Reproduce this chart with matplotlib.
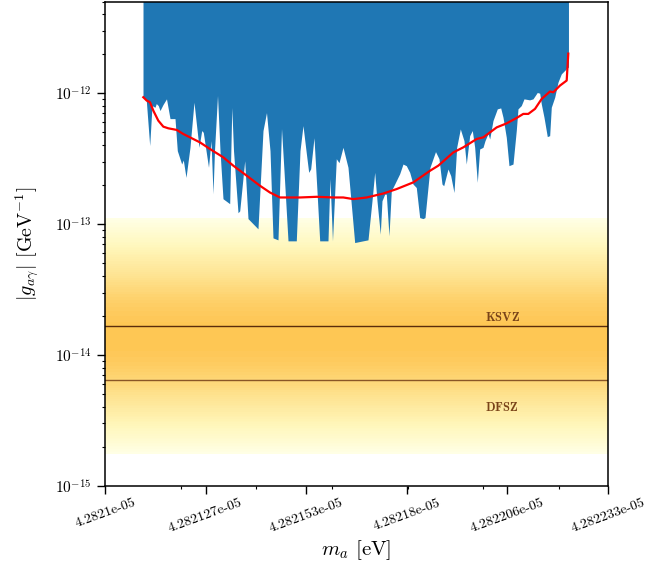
import numpy as np
import matplotlib.pyplot as plt
from matplotlib.ticker import MultipleLocator, NullFormatter

plt.rcParams['font.family'] = 'serif'
plt.rcParams['font.serif'] = ['cmr10', 'DejaVu Serif']
plt.rcParams['mathtext.fontset'] = 'cm'
plt.rcParams['axes.formatter.use_mathtext'] = True

m0 = 4.2821e-05      # eV, lower end of the mass axis
m1 = 4.282233e-05    # eV, upper end

# observed exclusion: mass offset from m0 (in 1e-11 eV) and coupling (in 1e-13 GeV^-1)
limit_dm = [10.05, 10.92, 11.82, 12.43, 13.22, 13.56, 14.09, 14.54, 15.34, 16.26,
            17.19, 18.51, 19.12, 20.28, 20.70, 21.42, 22.47, 23.53, 24.85, 25.57,
            25.99, 27.37, 28.03, 28.56, 28.95, 29.75, 30.41, 31.20, 32.97, 33.53,
            33.98, 35.17, 35.62, 36.94, 37.81, 40.45, 41.78, 42.70, 43.63, 44.42,
            45.74, 46.67, 47.33, 48.39, 50.58, 51.56, 52.35, 53.15, 53.86, 54.39,
            55.26, 56.05, 56.77, 58.96, 59.49, 60.15, 61.16, 61.87, 62.93, 64.25,
            65.04, 66.02, 68.22, 69.54, 70.60, 71.31, 71.92, 72.79, 73.24, 73.96,
            74.38, 75.09, 75.70, 76.60, 77.92, 78.79, 79.67, 80.57, 81.44, 82.31,
            83.21, 84.08, 84.61, 85.93, 87.39, 88.31, 89.11, 89.56, 90.69, 91.41,
            92.28, 92.99, 93.95, 94.92, 95.53, 96.43, 97.12, 97.75, 98.44, 99.07,
            99.95, 100.48, 101.27, 101.72, 102.59, 103.73, 104.63, 105.24, 106.11, 106.82,
            107.88, 108.75, 109.20, 110.07, 110.79, 112.29, 113.17, 114.30, 114.94, 115.36,
            116.08, 116.95, 117.58, 118.01, 118.91, 119.78, 120.65, 121.97, 122.55]
limit_g = [9.29, 8.76, 3.97, 8.02, 7.79, 8.31, 8.02, 7.35, 8.17, 9.03,
           6.38, 6.38, 3.63, 2.87, 3.08, 2.27, 3.85, 8.50, 3.85, 5.17,
           5.01, 2.71, 4.33, 1.70, 3.63, 9.57, 3.63, 1.56, 1.43, 7.75,
           3.63, 1.22, 1.26, 3.04, 1.10, 0.919, 5.17, 7.09, 3.63, 0.784,
           0.757, 5.35, 2.55, 0.744, 0.744, 3.63, 5.64, 3.63, 2.48, 2.64,
           4.56, 1.79, 0.744, 0.744, 2.22, 0.744, 3.15, 2.94, 3.85, 2.71,
           1.505, 0.722, 0.744, 0.757, 1.505, 2.48, 1.505, 0.837, 1.505, 1.69,
           1.69, 0.812, 1.79, 2.02, 2.42, 2.87, 2.79, 2.48, 2.02, 1.90,
           1.12, 1.10, 1.12, 2.71, 3.57, 3.15, 2.02, 1.96, 2.63, 2.34,
           1.74, 3.85, 5.32, 4.33, 2.87, 4.73, 5.17, 3.85, 2.08, 3.74,
           3.85, 4.33, 4.90, 4.46, 6.16, 7.57, 7.70, 6.53, 4.59, 2.79,
           2.87, 5.17, 7.57, 8.02, 9.03, 8.87, 9.03, 10.1, 9.97, 8.27,
           6.53, 4.65, 4.73, 7.79, 9.29, 12.1, 14.0, 15.3, 15.8]

# expected sensitivity (red curve), same units
expected_dm = [10.13, 11.03, 11.90, 12.77, 14.09, 15.42, 16.74, 18.96, 20.70, 22.47,
               25.12, 27.76, 31.28, 33.92, 37.47, 40.98, 43.63, 46.27, 51.56, 55.98,
               60.37, 63.01, 65.65, 69.20, 73.59, 77.13, 81.52, 85.93, 88.13, 92.09,
               94.74, 98.28, 100.03, 103.57, 106.21, 108.86, 110.60, 111.93, 113.70, 115.47,
               117.66, 118.54, 120.31, 122.08, 122.50]
expected_g = [9.29, 8.76, 8.50, 7.35, 6.16, 5.54, 5.38, 5.23, 4.87, 4.59,
              4.20, 3.74, 3.23, 2.79, 2.34, 1.96, 1.74, 1.595, 1.595, 1.614,
              1.595, 1.595, 1.55, 1.595, 1.71, 1.85, 2.08, 2.55, 2.79, 3.52,
              3.85, 4.46, 4.59, 5.47, 5.87, 6.46, 6.93, 6.93, 7.57, 9.03,
              10.27, 10.14, 11.41, 12.46, 20.0]

# QCD axion models
g_ksvz = 1.66e-14
g_dfsz = 6.5e-15
band_center = 1.39e-14   # GeV^-1
band_halfwidth = 0.9     # decades
band_sigma = 0.8         # decades

xticks = [4.2821e-05, 4.2821266e-05, 4.2821532e-05, 4.2821798e-05, 4.2822064e-05, 4.282233e-05]
xticklabels = ['4.2821e-05', '4.282127e-05', '4.282153e-05', '4.28218e-05', '4.282206e-05', '4.282233e-05']

m_lim = m0 + np.array(limit_dm) * 1e-11
g_lim = np.array(limit_g) * 1e-13
m_exp = m0 + np.array(expected_dm) * 1e-11
g_exp = np.array(expected_g) * 1e-13

fig = plt.figure(figsize=(6.72, 5.78), dpi=100)
ax = fig.add_axes([0.15625, 0.1592, 0.7485, 0.8382])

# QCD band
mm = np.array([m0, m1])
gg = np.logspace(-16, -11, 800)
dx = np.log10(gg) - np.log10(band_center)
Z = np.exp(-0.5 * (dx / band_sigma) ** 2) / (band_sigma * np.sqrt(2 * np.pi))
ZZ = np.tile(Z[:, None], (1, 2))
vmin = Z.max() * np.exp(-0.5 * (band_halfwidth / band_sigma) ** 2)
ax.contourf(mm, gg, ZZ, levels=np.linspace(vmin, Z.max(), 50), cmap='YlOrBr',
            vmin=vmin, vmax=0.9, zorder=0)
ax.plot(mm, [g_ksvz, g_ksvz], '-', color='#5a2c0c', lw=1.0, zorder=1)
ax.plot(mm, [g_dfsz, g_dfsz], '-', color='#8a5626', lw=1.0, zorder=1)
ax.text(4.282205e-05, 1.93e-14, r'$\mathbf{KSVZ}$', fontsize=9, color='#7a4419',
        ha='center', va='center', zorder=1)
ax.text(4.282205e-05, 3.94e-15, r'$\mathbf{DFSZ}$', fontsize=9, color='#7a4419',
        ha='center', va='center', zorder=1)

# exclusion
ax.fill_between(m_lim, g_lim, 1e-10, color='#1f77b4', lw=0, zorder=2)
ax.plot(m_exp, g_exp, color='red', lw=1.6, zorder=3)

ax.set_yscale('log')
ax.set_xlim(m0, m1)
ax.set_ylim(1e-15, 5e-12)
ax.set_xticks(xticks, xticklabels, rotation=20, ha='center')
ax.xaxis.set_minor_locator(MultipleLocator(2e-10))
ax.xaxis.set_minor_formatter(NullFormatter())
ax.tick_params(axis='x', which='major', labelsize=10, pad=2)
ax.tick_params(axis='y', which='major', labelsize=11)
ax.tick_params(which='major', direction='out', length=6, width=1.0)
ax.tick_params(which='minor', direction='out', length=2.5, width=0.8)
for s in ax.spines.values():
    s.set_linewidth(1.1)

ax.set_xlabel(r'$m_a$ [eV]', fontsize=15, labelpad=2)
ax.set_ylabel(r'$|g_{a\gamma}|$ [GeV$^{-1}$]', fontsize=14.5, labelpad=10)

fig.savefig('out.png', dpi=100)
